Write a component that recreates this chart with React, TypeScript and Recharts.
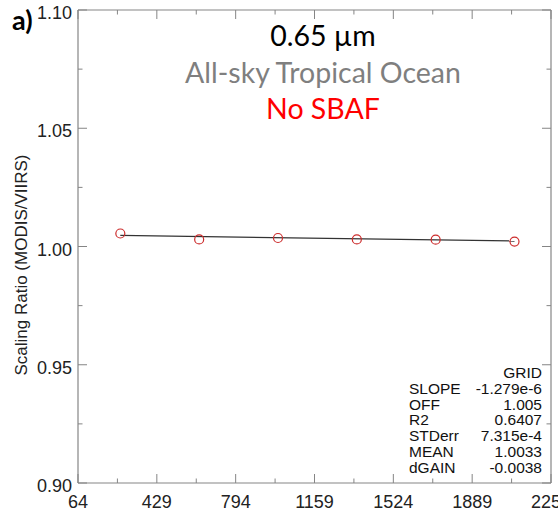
import { ComposedChart, Line, Scatter, XAxis, YAxis } from 'recharts'

// Scaling ratio vs. day number, tropical ocean, 0.65 um
const dayBins = [260, 625, 990, 1355, 1720, 2085]
const ratios = [1.0055, 1.003, 1.0036, 1.003, 1.0029, 1.0021]

const fitSlope = -1.279e-6
const fitOffset = 1.005

const xTicks = [64, 246.5, 429, 611.5, 794, 976.5, 1159, 1341.5, 1524, 1706.5, 1889, 2071.5, 2254]
const xMajor = [64, 429, 794, 1159, 1524, 1889, 2254]
const yTicks = [0.9, 0.925, 0.95, 0.975, 1.0, 1.025, 1.05, 1.075, 1.1]

const statLabels = ['', 'SLOPE', 'OFF', 'R2', 'STDerr', 'MEAN', 'dGAIN']
const statValues = ['GRID', '-1.279e-6', '1.005', '0.6407', '7.315e-4', '1.0033', '-0.0038']

const points = dayBins.map((x, i) => ({ x, y: ratios[i] }))
const fitLine = [dayBins[0], dayBins[dayBins.length - 1]].map((x) => ({
  x,
  y: fitOffset + fitSlope * x,
}))

const AXIS = '#858585'
const LABEL_FONT = '"Liberation Sans", Arial, Helvetica, sans-serif'
const TITLE_FONT = 'Lato, "Open Sans", sans-serif'

const isYMajor = (v: number) => Math.abs(v * 20 - Math.round(v * 20)) < 1e-6

function xTick(side: 'bottom' | 'top') {
  return (p: any) => {
    const v = p.payload.value
    const major = xMajor.includes(v)
    const len = major ? 9 : 4.5
    const dir = side === 'bottom' ? -1 : 1
    return (
      <g>
        <line x1={p.x} x2={p.x} y1={p.y} y2={p.y + dir * len} stroke={AXIS} strokeWidth={1} />
        {side === 'bottom' && major && (
          <text x={p.x} y={p.y + 25} textAnchor="middle" fontSize={18} fontFamily={LABEL_FONT} fill="#222">
            {v}
          </text>
        )}
      </g>
    )
  }
}

function yTick(side: 'left' | 'right') {
  return (p: any) => {
    const v = p.payload.value
    const major = isYMajor(v)
    const len = major ? 9 : 4.5
    const dir = side === 'left' ? 1 : -1
    return (
      <g>
        <line x1={p.x} x2={p.x + dir * len} y1={p.y} y2={p.y} stroke={AXIS} strokeWidth={1} />
        {side === 'left' && major && (
          <text x={p.x - 6} y={p.y + 9} textAnchor="end" fontSize={18} fontFamily={LABEL_FONT} fill="#222">
            {v.toFixed(2)}
          </text>
        )}
      </g>
    )
  }
}

export default function App() {
  return (
    <div style={{ position: 'absolute', left: 0, top: 0, width: 558, height: 512, background: '#fff' }}>
      <ComposedChart width={558} height={512} margin={{ top: 9, right: 6, bottom: 28, left: 77 }}>
        <XAxis
          xAxisId="b"
          type="number"
          dataKey="x"
          orientation="bottom"
          domain={[64, 2254]}
          ticks={xTicks}
          interval={0}
          height={1}
          tickSize={0}
          tickMargin={0}
          allowDataOverflow
          axisLine={{ stroke: AXIS, strokeWidth: 1.2 }}
          tick={xTick('bottom')}
        />
        <XAxis
          xAxisId="t"
          type="number"
          dataKey="x"
          orientation="top"
          domain={[64, 2254]}
          ticks={xTicks}
          interval={0}
          height={1}
          tickSize={0}
          tickMargin={0}
          allowDataOverflow
          axisLine={{ stroke: AXIS, strokeWidth: 1.2 }}
          tick={xTick('top')}
        />
        <YAxis
          yAxisId="l"
          type="number"
          dataKey="y"
          domain={[0.9, 1.1]}
          ticks={yTicks}
          interval={0}
          width={1}
          tickSize={0}
          tickMargin={0}
          allowDataOverflow
          axisLine={{ stroke: AXIS, strokeWidth: 1.2 }}
          tick={yTick('left')}
        />
        <YAxis
          yAxisId="r"
          orientation="right"
          type="number"
          dataKey="y"
          domain={[0.9, 1.1]}
          ticks={yTicks}
          interval={0}
          width={1}
          tickSize={0}
          tickMargin={0}
          allowDataOverflow
          axisLine={{ stroke: AXIS, strokeWidth: 1.2 }}
          tick={yTick('right')}
        />
        <Line
          xAxisId="b"
          yAxisId="l"
          data={fitLine}
          dataKey="y"
          type="linear"
          stroke="#333"
          strokeWidth={1.3}
          dot={false}
          activeDot={false}
          isAnimationActive={false}
        />
        <Scatter
          xAxisId="b"
          yAxisId="l"
          data={points}
          dataKey="y"
          isAnimationActive={false}
          shape={(p: any) => (
            <circle cx={p.cx} cy={p.cy} r={4.5} fill="none" stroke="#cc2b2b" strokeWidth={1.2} />
          )}
        />
      </ComposedChart>

      <div
        style={{
          position: 'absolute',
          left: 12,
          top: 5,
          fontFamily: TITLE_FONT,
          fontWeight: 700,
          fontSize: 27,
          color: '#000',
          lineHeight: '30px',
        }}
      >
        a)
      </div>

      <div
        style={{
          position: 'absolute',
          left: 22,
          top: 265,
          transform: 'translate(-50%, -50%) rotate(-90deg)',
          whiteSpace: 'nowrap',
          fontFamily: LABEL_FONT,
          fontSize: 17,
          color: '#222',
        }}
      >
        Scaling Ratio (MODIS/VIIRS)
      </div>

      {[
        { text: '0.65 µm', color: '#000', y: 35 },
        { text: 'All-sky Tropical Ocean', color: '#7f7f7f', y: 72 },
        { text: 'No SBAF', color: '#ff0000', y: 108 },
      ].map((t) => (
        <div
          key={t.text}
          style={{
            position: 'absolute',
            left: 123,
            width: 400,
            top: t.y - 18,
            lineHeight: '36px',
            textAlign: 'center',
            fontFamily: TITLE_FONT,
            fontSize: 28.5,
            color: t.color,
          }}
        >
          {t.text}
        </div>
      ))}

      <div
        style={{
          position: 'absolute',
          left: 409,
          top: 365,
          width: 133,
          fontFamily: LABEL_FONT,
          fontSize: 15.5,
          lineHeight: '15.8px',
          color: '#111',
        }}
      >
        {statLabels.map((l, i) => (
          <div key={i} style={{ display: 'flex', justifyContent: 'space-between', whiteSpace: 'nowrap' }}>
            <span>{l}</span>
            <span>{statValues[i]}</span>
          </div>
        ))}
      </div>
    </div>
  )
}
